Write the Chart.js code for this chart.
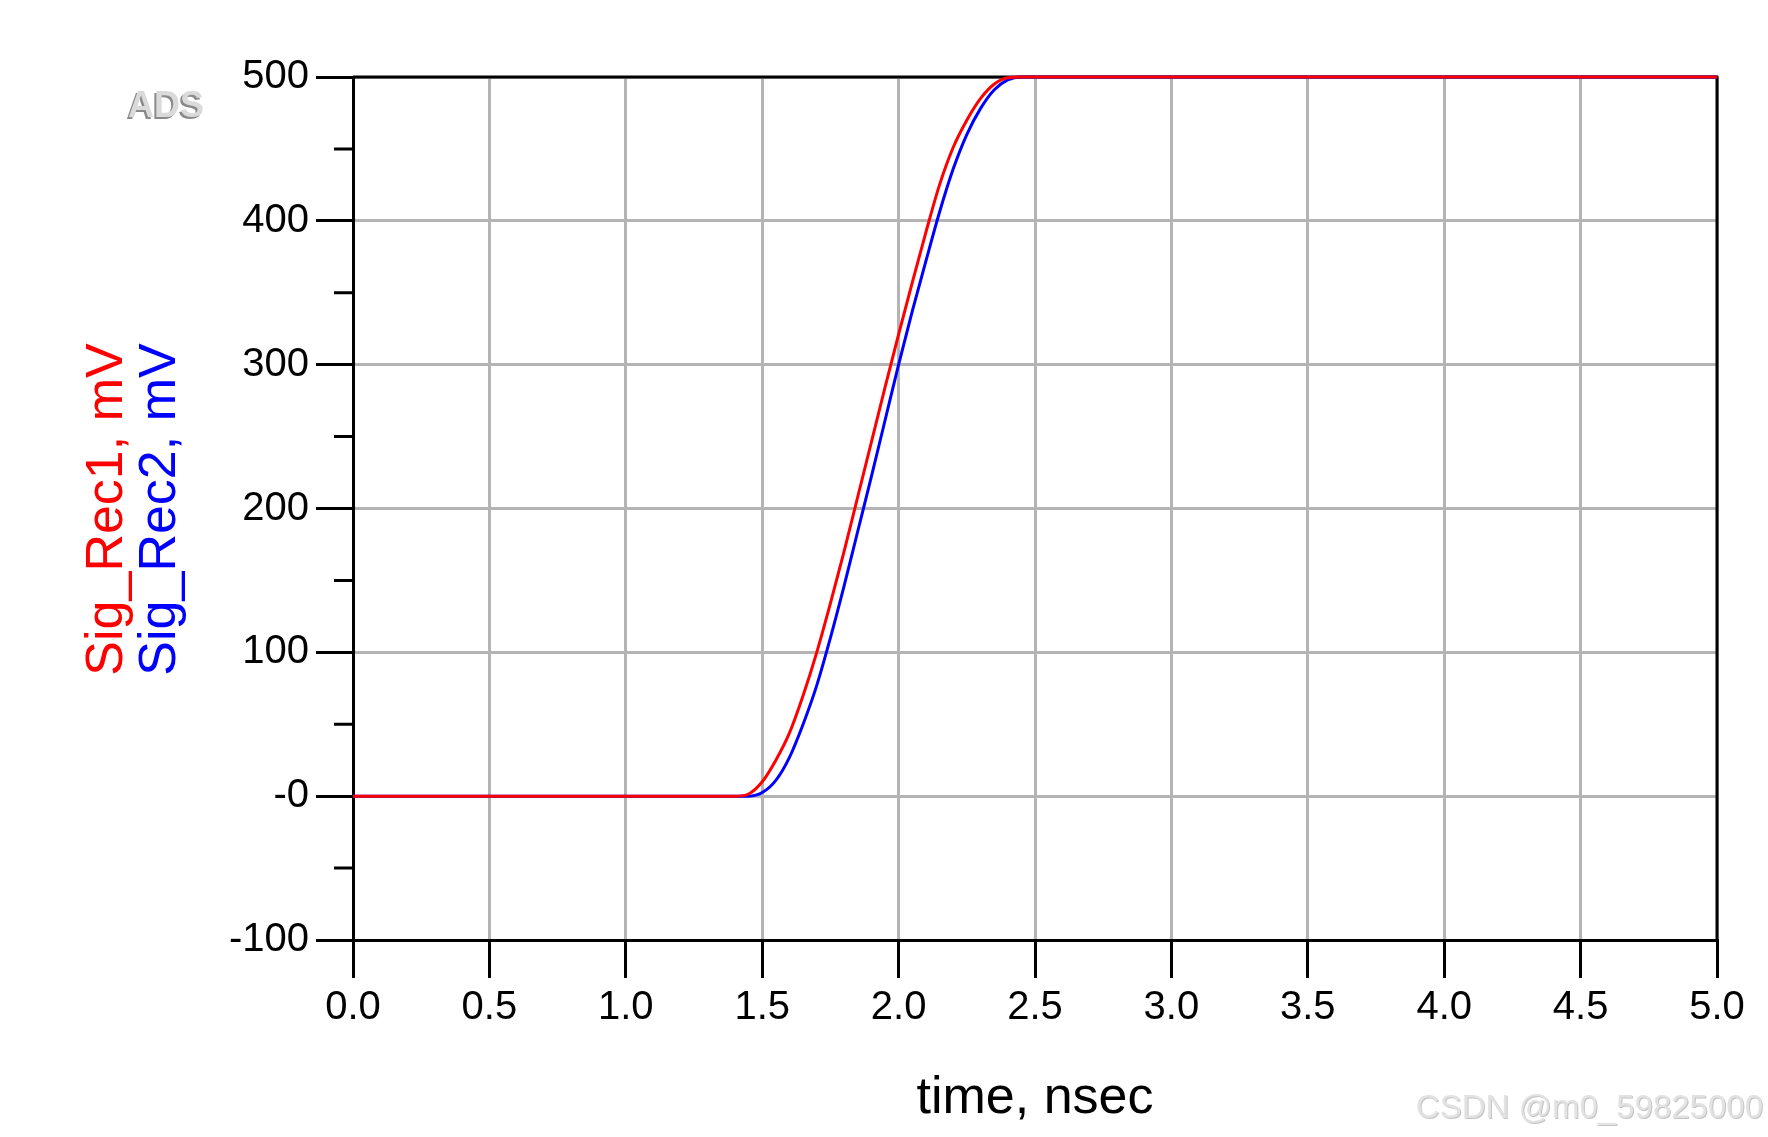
<!DOCTYPE html>
<html>
<head>
<meta charset="utf-8">
<script src="https://cdn.jsdelivr.net/npm/chart.js@4/dist/chart.umd.min.js"></script>
<style>
  html, body { margin: 0; padding: 0; background: #fff; }
  canvas { display: block; }
</style>
</head>
<body>
<canvas id="grafico" width="1768" height="1137"></canvas>
<script>
// valores (tiempo en ns, señales en mV)
const tiempo  = [0, 1.35, 1.40, 1.45, 1.50, 1.55, 1.60, 1.65, 1.70, 1.75, 1.80, 1.85, 1.90,
                 1.95, 2.00, 2.05, 2.10, 2.15, 2.20, 2.25, 2.30, 2.35, 2.40, 2.45, 2.50, 5.0];
const sigRec1 = [0, 0, 0, 1.5, 10, 25, 44, 70, 100, 134, 170, 208, 246,
                 284, 321, 357, 392, 425, 451, 470, 485, 495, 499.5, 500, 500, 500];
const sigRec2 = [0, 0, 0, 0, 2.5, 11, 27, 50, 77, 110, 146, 184, 222,
                 261, 300, 337, 372, 406, 436, 460, 478, 491, 498, 500, 500, 500];

const xTicks = ['0.0', '0.5', '1.0', '1.5', '2.0', '2.5', '3.0', '3.5', '4.0', '4.5', '5.0'];
const yTicks = ['-100', '-0', '100', '200', '300', '400', '500'];
const yMenores = [-50, 50, 150, 250, 350, 450];

const fuente = "'Liberation Sans', Arial, sans-serif";

function puntos(ys) {
  return tiempo.map((t, i) => ({ x: t, y: ys[i] }));
}

// marco, ticks menores, titulos del eje y y marcas de agua
const extras = {
  id: 'extras',
  beforeDatasetsDraw(chart) {
    const { ctx, chartArea: a, scales } = chart;
    ctx.save();
    ctx.strokeStyle = '#000';
    ctx.lineWidth = 3;
    ctx.beginPath();
    ctx.moveTo(a.left, a.top);
    ctx.lineTo(a.right, a.top);
    ctx.lineTo(a.right, a.bottom);
    ctx.stroke();
    ctx.beginPath();
    yMenores.forEach(v => {
      const py = scales.y.getPixelForValue(v);
      ctx.moveTo(a.left - 19, py);
      ctx.lineTo(a.left, py);
    });
    ctx.stroke();
    ctx.restore();
  },
  afterDraw(chart) {
    const { ctx, chartArea: a } = chart;
    const cy = (a.top + a.bottom) / 2 + 1;
    ctx.save();
    ctx.font = '52px ' + fuente;
    ctx.textAlign = 'center';
    ctx.textBaseline = 'alphabetic';
    [['Sig_Rec1, mV', '#ff0000', 122], ['Sig_Rec2, mV', '#0000ff', 175]].forEach(([txt, col, bx]) => {
      ctx.save();
      ctx.translate(bx, cy);
      ctx.rotate(-Math.PI / 2);
      ctx.fillStyle = col;
      ctx.fillText(txt, 0, 0);
      ctx.restore();
    });

    // titulo eje x
    ctx.fillStyle = '#000';
    ctx.fillText('time, nsec', (a.left + a.right) / 2, 1113);

    // ADS
    ctx.font = 'bold 36px ' + fuente;
    ctx.textAlign = 'left';
    ctx.fillStyle = '#8a8a8a';
    ctx.fillText('ADS', 126, 119);
    ctx.fillStyle = '#dadada';
    ctx.fillText('ADS', 128, 117);

    // CSDN
    ctx.font = '33px ' + fuente;
    ctx.textAlign = 'right';
    ctx.fillStyle = '#c4c4c4';
    ctx.fillText('CSDN @m0_59825000', 1764, 1119);
    ctx.fillStyle = '#e2e2e2';
    ctx.fillText('CSDN @m0_59825000', 1763, 1118);
    ctx.restore();
  }
};

const ctx = document.getElementById('grafico').getContext('2d');

new Chart(ctx, {
  type: 'line',
  data: {
    datasets: [{
      label: 'Sig_Rec1',
      data: puntos(sigRec1),
      borderColor: '#ff0000',
      borderWidth: 3,
      pointRadius: 0,
      cubicInterpolationMode: 'monotone',
      clip: false,
      fill: false
    }, {
      label: 'Sig_Rec2',
      data: puntos(sigRec2),
      borderColor: '#0000ff',
      borderWidth: 3,
      pointRadius: 0,
      cubicInterpolationMode: 'monotone',
      clip: false,
      fill: false
    }]
  },
  options: {
    responsive: false,
    animation: false,
    devicePixelRatio: 1,
    layout: { padding: { left: 0, right: 51, top: 77, bottom: 0 } },
    scales: {
      x: {
        type: 'linear',
        position: 'bottom',
        min: 0,
        max: 5,
        afterFit: (s) => { s.height = 197; },
        ticks: {
          stepSize: 0.5,
          autoSkip: false,
          maxRotation: 0,
          padding: 6,
          color: '#000',
          font: { family: fuente, size: 40 },
          callback: (v, i) => xTicks[i]
        },
        grid: {
          color: '#b4b4b4',
          lineWidth: 3,
          tickColor: '#000',
          tickWidth: 3,
          tickLength: 38
        },
        border: { color: '#000', width: 3 }
      },
      y: {
        type: 'linear',
        position: 'left',
        min: -100,
        max: 500,
        afterFit: (s) => { s.width = 353; },
        ticks: {
          stepSize: 100,
          padding: 7,
          color: '#000',
          font: { family: fuente, size: 40 },
          callback: (v, i) => yTicks[i]
        },
        grid: {
          color: '#b4b4b4',
          lineWidth: 3,
          tickColor: '#000',
          tickWidth: 3,
          tickLength: 37
        },
        border: { color: '#000', width: 3 }
      }
    },
    plugins: {
      legend: { display: false },
      tooltip: { enabled: false }
    }
  },
  plugins: [extras]
});
</script>
</body>
</html>
